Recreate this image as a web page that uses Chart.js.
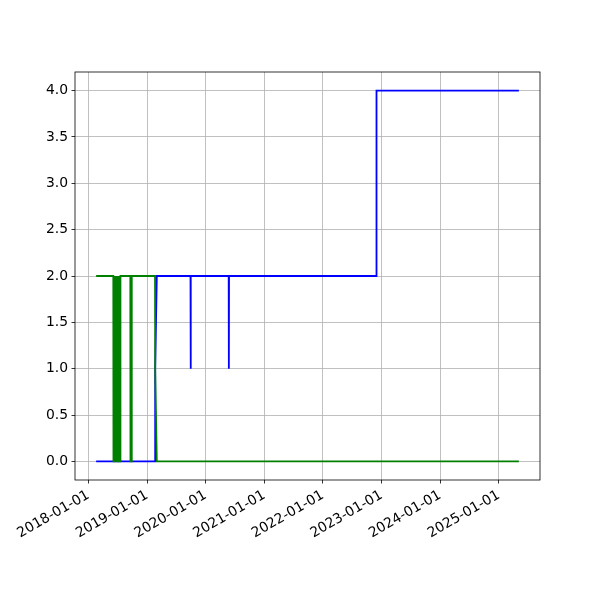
<!DOCTYPE html>
<html>
<head>
<meta charset="utf-8">
<script src="https://cdn.jsdelivr.net/npm/chart.js@4/dist/chart.umd.min.js"></script>
<style>
  html, body { margin: 0; padding: 0; background: #fff; }
  #wrap { width: 600px; height: 600px; }
</style>
</head>
<body>
<div id="wrap"><canvas id="c" width="600" height="600"></canvas></div>
<script>
// ---- data ----
const blueDates = ['2018-02-18','2018-06-08','2018-06-09','2018-06-10','2019-02-20','2019-02-21','2019-03-03',
  '2019-09-29','2019-09-30','2019-10-01','2020-05-24','2020-05-25','2020-05-26','2022-11-30','2022-12-01','2025-05-06'];
const blueValues = [0,0,2,0,0,1,2, 2,1,2, 2,1,2, 2,4,4];

const greenDates = ['2018-02-18','2018-06-05','2018-06-06',
  '2018-06-11','2018-06-12','2018-06-13','2018-06-14','2018-06-15','2018-06-16','2018-06-17','2018-06-18',
  '2018-06-19','2018-06-20','2018-06-21','2018-06-22','2018-06-23','2018-06-24','2018-06-25','2018-06-26',
  '2018-06-27','2018-06-28','2018-06-29','2018-06-30','2018-07-01','2018-07-02','2018-07-03','2018-07-04',
  '2018-07-05','2018-07-06','2018-07-07','2018-07-08','2018-07-09','2018-07-10','2018-07-11','2018-07-12',
  '2018-07-13','2018-07-14','2018-07-15','2018-07-16','2018-07-17','2018-07-18','2018-07-19','2018-07-20',
  '2018-07-21',
  '2018-09-19','2018-09-20','2018-09-27','2018-09-28',
  '2019-02-20','2019-02-21','2019-03-03','2025-05-06'];
const greenValues = [2,2,0,
  0,2,0,2,0,2,0,2,
  0,2,0,2,0,2,0,2,
  0,2,0,2,0,2,0,2,
  0,2,0,2,0,2,0,2,
  0,2,0,2,0,2,0,2,
  2,
  2,0,0,2,
  2,1,0,0];

const xTickYears = [2018,2019,2020,2021,2022,2023,2024,2025];
const yTicks = [0.0,0.5,1.0,1.5,2.0,2.5,3.0,3.5,4.0];

// ---- helpers ----
function ts(s){ const p = s.split('-').map(Number); return Date.UTC(p[0], p[1]-1, p[2]); }
function pts(dates, vals){ return dates.map((d,i)=>({x: ts(d), y: vals[i]})); }
function fmt(v){ const d = new Date(v); const m = String(d.getUTCMonth()+1).padStart(2,'0'); const dd = String(d.getUTCDate()).padStart(2,'0'); return d.getUTCFullYear()+'-'+m+'-'+dd; }

const allX = blueDates.concat(greenDates).map(ts);
const xMinD = Math.min(...allX), xMaxD = Math.max(...allX);
const xr = xMaxD - xMinD;

Chart.defaults.font.family = "'DejaVu Sans', sans-serif";
Chart.defaults.font.size = 13.9;
Chart.defaults.color = '#000';

const frame = {
  id: 'frame',
  afterDatasetsDraw(chart){
    const a = chart.chartArea, ctx = chart.ctx;
    ctx.save();
    ctx.strokeStyle = '#000';
    ctx.lineWidth = 0.8;
    ctx.strokeRect(a.left, a.top, a.right - a.left, a.bottom - a.top);
    ctx.restore();
  }
};

new Chart(document.getElementById('c'), {
  type: 'line',
  data: {
    datasets: [
      { label: 'green', data: pts(greenDates, greenValues), borderColor: '#008000', borderWidth: 1.8, pointRadius: 0, tension: 0, fill: false, order: 0 },
      { label: 'blue', data: pts(blueDates, blueValues), borderColor: '#0000ff', borderWidth: 1.8, pointRadius: 0, tension: 0, fill: false, order: 1 }
    ]
  },
  options: {
    responsive: false,
    animation: false,
    events: [],
    layout: { padding: { top: 72, right: 60, left: 0, bottom: 0 } },
    plugins: { legend: { display: false }, tooltip: { enabled: false } },
    scales: {
      x: {
        type: 'linear',
        min: xMinD - 0.05 * xr,
        max: xMaxD + 0.05 * xr,
        afterBuildTicks(scale){ scale.ticks = xTickYears.map(y => ({ value: Date.UTC(y,0,1) })); },
        afterFit(scale){ scale.height = 120; scale.paddingLeft = 0; scale.paddingRight = 0; },
        ticks: { autoSkip: false, minRotation: 30, maxRotation: 30, padding: 3.5, callback: (v) => fmt(v) },
        grid: { color: '#b0b0b0', lineWidth: 0.8, tickColor: '#000', tickLength: 3.5 },
        border: { display: false }
      },
      y: {
        type: 'linear',
        min: -0.2,
        max: 4.2,
        afterBuildTicks(scale){ scale.ticks = yTicks.map(v => ({ value: v })); },
        afterFit(scale){ scale.width = 75; },
        ticks: { padding: 3.5, callback: (v) => Number(v).toFixed(1) },
        grid: { color: '#b0b0b0', lineWidth: 0.8, tickColor: '#000', tickLength: 3.5 },
        border: { display: false }
      }
    }
  },
  plugins: [frame]
});
</script>
</body>
</html>
